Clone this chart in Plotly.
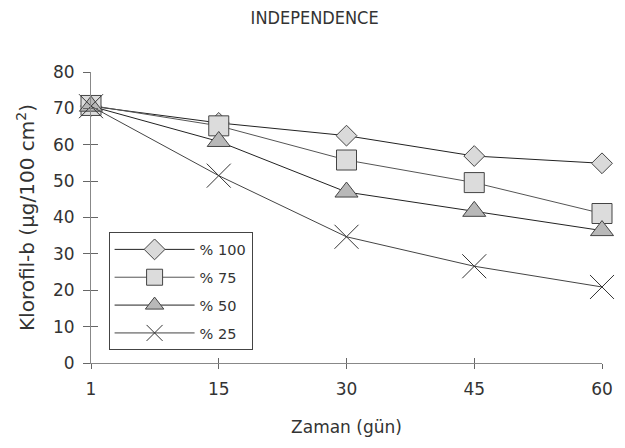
import plotly.graph_objects as go

days = ["1", "15", "30", "45", "60"]
t100 = [70.6, 66.0, 62.5, 56.9, 54.9]
t75 = [70.8, 65.2, 55.8, 49.6, 41.1]
t50 = [70.6, 60.9, 47.0, 41.7, 36.4]
t25 = [70.6, 51.5, 34.7, 26.6, 20.9]
names = ["% 100", "% 75", "% 50", "% 25"]
y_ticks = [0, 10, 20, 30, 40, 50, 60, 70, 80]

FONT = "DejaVu Sans"
TXT = "#333333"

fig = go.Figure()
specs = [
    (t100, names[0], "diamond", 16, "#dadada", "#444444", "#222222"),
    (t75, names[1], "square", 20, "#dcdcdc", "#444444", "#555555"),
    (t50, names[2], "triangle-up", 20, "#b8b8b8", "#444444", "#222222"),
    (t25, names[3], "x-thin", 24, "#333333", "#333333", "#444444"),
]
for i, (vals, nm, sym, sz, fill, edge, lc) in enumerate(specs):
    fig.add_trace(go.Scatter(
        x=days, y=vals, name=nm, mode="lines+markers", legendgroup=f"g{i}",
        line=dict(color=lc, width=1),
        marker=dict(symbol=sym, size=sz, color=fill,
                    line=dict(color=edge, width=1)),
        cliponaxis=False,
    ))

fig.add_trace(go.Scatter(x=[None], y=[None], xaxis="x2", yaxis="y2",
                         showlegend=False, hoverinfo="skip"))

fig.update_layout(
    width=617, height=440,
    margin=dict(l=83, r=23, t=64, b=85),
    paper_bgcolor="white", plot_bgcolor="white",
    font=dict(family=FONT, color=TXT),
    title=dict(text="INDEPENDENCE", x=0.497, xanchor="center", y=0.979,
               yanchor="middle",
               font=dict(family="DejaVu Sans Condensed, DejaVu Sans", size=18, color=TXT)),
    xaxis=dict(type="category", range=[0, 4], showline=True, linecolor="#888888",
               linewidth=1, ticks="outside", ticklen=5, tickcolor="#666666",
               showgrid=False, zeroline=False, ticklabelstandoff=6,
               tickfont=dict(size=17, color=TXT),
               title=dict(text="Zaman (gün)", font=dict(size=17, color=TXT), standoff=22)),
    yaxis=dict(range=[0, 80], tickvals=y_ticks, showline=True, linecolor="#888888",
               linewidth=1, ticks="outside", ticklen=7, tickcolor="#666666",
               showgrid=False, zeroline=False, ticklabelstandoff=5,
               tickfont=dict(size=17, color=TXT),
               title=dict(text="Klorofil-b (µg/100 cm<sup>2</sup>)",
                          font=dict(size=20, color=TXT), standoff=12)),
    xaxis2=dict(overlaying="x", range=[0, 4], tickvals=[1, 2, 3, 4], ticks="inside",
                ticklen=5, tickcolor="#666666", showticklabels=False, showgrid=False,
                zeroline=False, showline=False),
    yaxis2=dict(overlaying="y", range=[0, 80], tickvals=y_ticks, ticks="inside",
                ticklen=7, tickcolor="#666666", showticklabels=False, showgrid=False,
                zeroline=False, showline=False),
    legend=dict(x=0.0344, y=0.4486, xanchor="left", yanchor="top",
                bordercolor="#444444", borderwidth=1, bgcolor="white",
                font=dict(size=14.5, color=TXT), itemwidth=80,
                tracegroupgap=6),
    showlegend=True,
)

fig.write_html("out.html")
